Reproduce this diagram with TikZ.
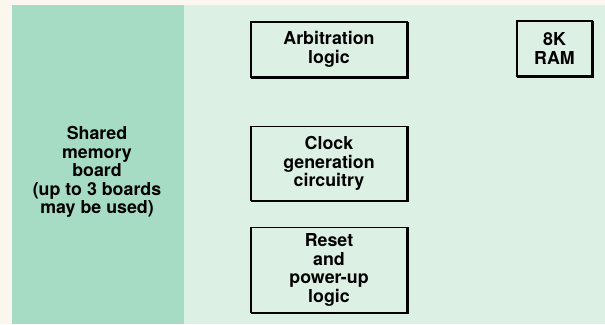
\documentclass[tikz,border=0pt]{standalone}
\usepackage{fontspec}
\setmainfont{TeX Gyre Heros}
\definecolor{paper}{HTML}{FBF6EE}
\definecolor{boardgreen}{HTML}{A6DBC4}
\definecolor{panelgreen}{HTML}{DCF0E4}
\tikzset{
  unit/.style={draw=black, line width=1.5bp, fill=panelgreen, align=center,
    inner sep=0pt, font=\bfseries\fontsize{17.8bp}{18.6bp}\selectfont},
  label/.style={align=center, font=\bfseries\fontsize{17.8bp}{18.6bp}\selectfont}
}
\begin{document}
\begin{tikzpicture}[x=1bp, y=-1bp]
  % page and panels
  \fill[paper] (0,0) rectangle (605,324);
  \useasboundingbox (0,0) rectangle (605,324);
  \fill[panelgreen] (12,5) rectangle (605,324);
  \fill[boardgreen] (12,5) rectangle (184,324);

  % shared memory board label
  \node[label] (shared) at (97,172)
    {Shared\\memory\\board\\(up to 3 boards\\may be used)};

  % function blocks
  \node[unit, minimum width=156bp, minimum height=55bp] (arb) at (329,49.5)
    {Arbitration\\logic};
  \node[unit, minimum width=75bp, minimum height=55bp] (ram) at (554.5,48.5)
    {8K\\RAM};
  \node[unit, minimum width=156bp, minimum height=74bp] (clk) at (329,163.5)
    {Clock\\generation\\circuitry};
  \node[unit, minimum width=156bp, minimum height=85bp] (rst) at (329,270)
    {Reset\\and\\power-up\\logic};

  % heavier lower and right edges
  \foreach \n in {arb,ram,clk,rst}
    \draw[line width=1bp] ([xshift=0.6bp,yshift=-0.6bp]\n.south west) -- ([xshift=0.6bp,yshift=-0.6bp]\n.south east)
      -- ([xshift=0.6bp,yshift=-0.6bp]\n.north east);
\end{tikzpicture}
\end{document}
